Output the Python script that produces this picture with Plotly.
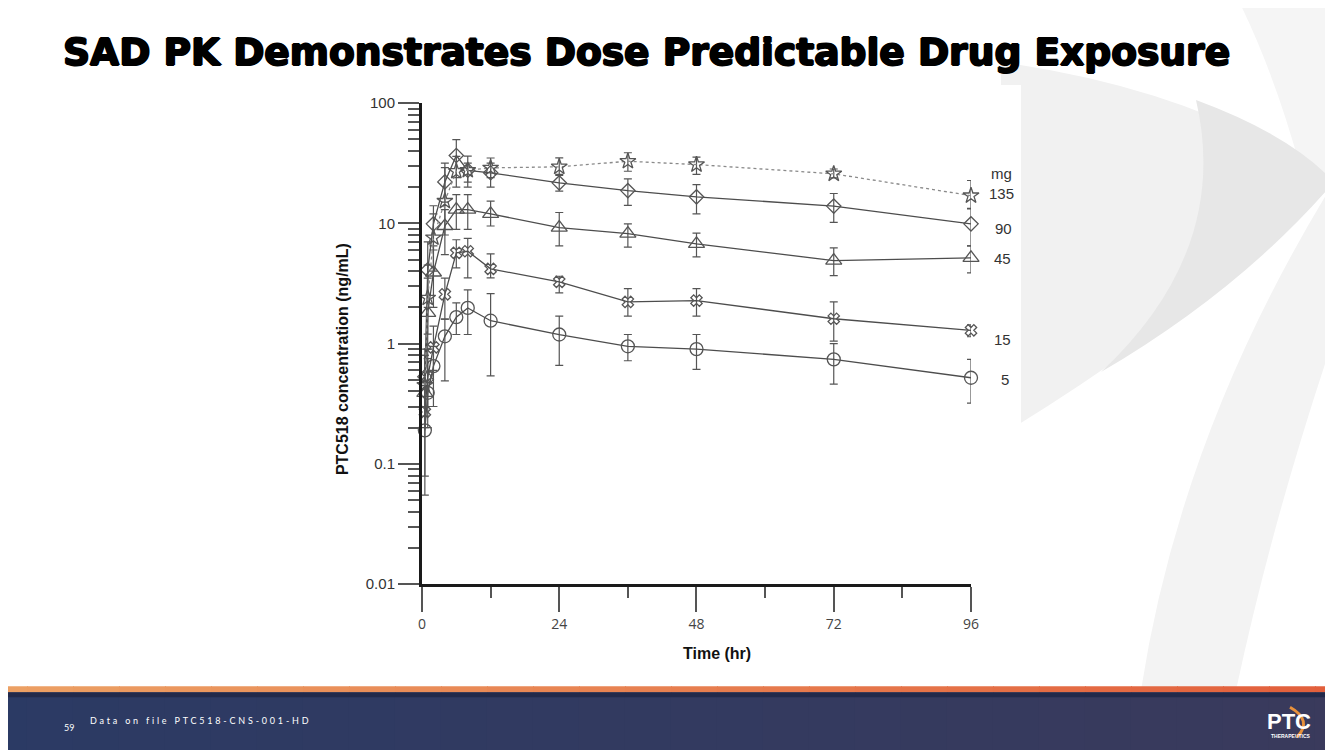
import plotly.graph_objects as go

# ---------------- data ----------------
time_hr = [0.5, 1, 2, 4, 6, 8, 12, 24, 36, 48, 72, 96]

dose_labels = ["5", "15", "45", "90", "135"]

mean_5 = [0.19, 0.39, 0.65, 1.15, 1.66, 1.98, 1.55, 1.19, 0.95, 0.90, 0.74, 0.52]
upper_5 = [0.30, 0.75, 0.95, 1.60, 2.18, 2.80, 2.60, 1.69, 1.19, 1.19, 1.00, 0.74]
lower_5 = [0.055, 0.20, 0.30, 0.49, 1.19, 1.19, 0.54, 0.66, 0.72, 0.61, 0.46, 0.32]

mean_15 = [0.27, 0.53, 0.93, 2.57, 5.68, 5.86, 4.18, 3.26, 2.22, 2.28, 1.61, 1.29]
upper_15 = [0.45, 0.90, 1.40, 3.50, 7.30, 7.50, 5.57, 3.63, 2.87, 2.87, 2.22, 1.43]
lower_15 = [0.079, 0.30, 0.60, 1.60, 4.27, 3.52, 3.52, 2.64, 1.69, 1.69, 1.05, 1.14]

mean_45 = [0.39, 1.8, 3.9, 9.5, 13.0, 13.0, 12.0, 9.2, 8.2, 6.75, 4.9, 5.16]
upper_45 = [0.8, 3.5, 6.5, 13.0, 17.3, 17.3, 15.3, 12.3, 9.9, 8.3, 6.25, 6.5]
lower_45 = [0.2, 0.9, 2.0, 5.5, 8.9, 8.9, 9.5, 6.5, 6.35, 5.27, 3.68, 3.87]

mean_90 = [0.53, 4.1, 9.9, 22.1, 36.6, 27.6, 26.3, 21.7, 18.7, 16.6, 13.9, 9.9]
upper_90 = [0.9, 7.0, 14.0, 29.0, 49.6, 36.2, 31.7, 25.5, 23.4, 21.0, 17.7, 13.2]
lower_90 = [0.3, 2.0, 6.0, 15.0, 24.0, 20.0, 20.0, 18.5, 14.1, 12.0, 10.2, 6.5]

mean_135 = [0.45, 2.4, 7.6, 15.3, 27.1, 27.6, 28.9, 29.5, 32.8, 30.8, 25.8, 17.0]
upper_135 = [0.8, 4.5, 12.0, 31.7, 36.0, 31.7, 34.9, 35.0, 38.6, 35.5, 28.3, 22.7]
lower_135 = [0.25, 1.2, 4.0, 8.0, 20.0, 22.0, 24.0, 25.0, 27.1, 25.5, 23.9, 13.3]

x_ticks = [0, 24, 48, 72, 96]

title_text = "SAD PK Demonstrates Dose Predictable Drug Exposure"
y_title = "PTC518 concentration (ng/mL)"
x_title = "Time (hr)"
footer_text = "Data on file PTC518-CNS-001-HD"
page_no = "59"

# ---------------- page geometry ----------------
FW, FH = 1333, 750
# observed placement of the figure in the screenshot (offset and scale)
OX, OY = 11, 17
SX, SY = 0.991, 0.977


def px(x):
    return (x - OX) / SX / FW


def py(y):
    return 1 - (y - OY) / SY / FH


series = [
    ("5", mean_5, upper_5, lower_5, "circle-open", 13, "solid", "#4d4d4d"),
    ("15", mean_15, upper_15, lower_15, "x-open", 10, "solid", "#4d4d4d"),
    ("45", mean_45, upper_45, lower_45, "triangle-up-open", 14, "solid", "#4d4d4d"),
    ("90", mean_90, upper_90, lower_90, "diamond-open", 11, "solid", "#4d4d4d"),
    ("135", mean_135, upper_135, lower_135, "star-open", 12, "dot", "#8a8a8a"),
]

fig = go.Figure()
for name, m, up, lo, sym, size, dash, lcol in series:
    fig.add_trace(go.Scatter(
        x=time_hr, y=m, name=name + " mg", mode="lines+markers",
        line=dict(color=lcol, width=1.3, dash=dash),
        marker=dict(symbol=sym, size=size, color="#555555",
                    line=dict(color="#555555", width=1.3)),
        error_y=dict(type="data", symmetric=False,
                     array=[u - v for u, v in zip(up, m)],
                     arrayminus=[v - l for v, l in zip(m, lo)],
                     color="#555555", thickness=1.2, width=4),
        cliponaxis=False,
        showlegend=False,
    ))

# ---------------- decorative shapes ----------------
shapes = []
# background swoosh on the right (subtle greys)
shapes.append(dict(type="path", xref="paper", yref="paper", layer="below",
                   path=f"M {px(1227)} {py(-20)} L {px(1360)} {py(-20)} L {px(1360)} {py(190)} "
                        f"L {px(1300)} {py(170)} Q {px(1270)} {py(60)} {px(1227)} {py(-20)} Z",
                   fillcolor="#f5f5f5", line=dict(width=0)))
shapes.append(dict(type="path", xref="paper", yref="paper", layer="below",
                   path=f"M {px(1000)} {py(62)} Q {px(1200)} {py(90)} {px(1333)} {py(182)} "
                        f"Q {px(1190)} {py(320)} {px(1000)} {py(435)} Z",
                   fillcolor="#f1f1f1", line=dict(width=0)))
shapes.append(dict(type="path", xref="paper", yref="paper", layer="below",
                   path=f"M {px(1195)} {py(100)} Q {px(1290)} {py(135)} {px(1333)} {py(182)} "
                        f"Q {px(1240)} {py(290)} {px(1100)} {py(372)} Q {px(1230)} {py(250)} {px(1195)} {py(100)} Z",
                   fillcolor="#e7e7e7", line=dict(width=0)))
shapes.append(dict(type="path", xref="paper", yref="paper", layer="below",
                   path=f"M {px(1333)} {py(182)} L {px(1360)} {py(182)} L {px(1360)} {py(260)} "
                        f"Q {px(1280)} {py(480)} {px(1235)} {py(690)} L {px(1140)} {py(690)} "
                        f"Q {px(1180)} {py(430)} {px(1333)} {py(182)} Z",
                   fillcolor="#f3f3f3", line=dict(width=0)))
# white chart panel
shapes.append(dict(type="rect", xref="paper", yref="paper", layer="below",
                   x0=px(320), x1=px(1020), y0=py(640), y1=py(85),
                   fillcolor="white", line=dict(width=0)))
# footer band with gradient
n = 30
c0 = (43, 58, 100)
c1 = (58, 58, 92)
for i in range(n):
    t = i / (n - 1)
    c = tuple(int(round(a + (b - a) * t)) for a, b in zip(c0, c1))
    x0 = -20 + i * 1380 / n
    shapes.append(dict(type="rect", xref="paper", yref="paper", layer="below",
                       x0=px(x0), x1=px(x0 + 1380 / n + 1), y0=py(790), y1=py(692),
                       fillcolor=f"rgb{c}", line=dict(width=0)))
# orange line
for i in range(n):
    t = i / (n - 1)
    c = tuple(int(round(a + (b - a) * t)) for a, b in zip((236, 160, 100), (226, 95, 60)))
    x0 = -20 + i * 1380 / n
    shapes.append(dict(type="rect", xref="paper", yref="paper", layer="below",
                       x0=px(x0), x1=px(x0 + 1380 / n + 1), y0=py(692), y1=py(686),
                       fillcolor=f"rgb{c}", line=dict(width=0)))
shapes.append(dict(type="rect", xref="paper", yref="paper", layer="below",
                   x0=px(-20), x1=px(1360), y0=py(697), y1=py(692),
                   fillcolor="#22294a", line=dict(width=0)))
# logo arc
shapes.append(dict(type="path", xref="paper", yref="paper",
                   path=f"M {px(1289)} {py(707)} Q {px(1312)} {py(720)} {px(1296)} {py(737)}",
                   line=dict(color="#e8913c", width=3)))

# ---------------- annotations ----------------
ann = []
ann.append(dict(text=f"<b>{title_text}</b>", x=px(60), y=py(52), xref="paper", yref="paper",
                xanchor="left", yanchor="middle", showarrow=False,
                font=dict(family="DejaVu Sans", size=37.6, color="#000000",
                          shadow="1px 0 0 #000, -1px 0 0 #000, 0 1px 0 #000, 0 -1px 0 #000")))
ann.append(dict(text=f"<b>{y_title}</b>", x=px(341), y=py(359), xref="paper", yref="paper",
                textangle=-90, showarrow=False, xanchor="center", yanchor="middle",
                font=dict(family="Liberation Sans", size=16, color="#111111")))
ann.append(dict(text=f"<b>{x_title}</b>", x=px(716), y=py(653), xref="paper", yref="paper",
                showarrow=False, xanchor="center", yanchor="middle",
                font=dict(family="Liberation Sans", size=16, color="#111111")))
dose_label_pos = {"mg": (1001, 173), "135": (1001, 193), "90": (1003, 228),
                  "45": (1002, 258), "15": (1002, 339), "5": (1004, 379)}
for lab in ["mg"] + dose_labels[::-1]:
    xx, yy = dose_label_pos[lab]
    ann.append(dict(text=lab, x=px(xx), y=py(yy), xref="paper", yref="paper",
                    showarrow=False, xanchor="center", yanchor="middle",
                    font=dict(family="Liberation Sans", size=15, color="#333333")))
ann.append(dict(text=page_no, x=px(61), y=py(727), xref="paper", yref="paper",
                showarrow=False, xanchor="left", yanchor="middle",
                font=dict(family="Lato", size=9, color="#ffffff")))
ann.append(dict(text=f'<span style="letter-spacing:2.8px">{footer_text}</span>',
                x=px(87), y=py(720), xref="paper", yref="paper",
                showarrow=False, xanchor="left", yanchor="middle",
                font=dict(family="Lato", size=9, color="#ffffff")))
ann.append(dict(text="<b>PTC</b>", x=px(1264), y=py(721), xref="paper", yref="paper",
                showarrow=False, xanchor="left", yanchor="middle",
                font=dict(family="Liberation Sans", size=22, color="#ffffff")))
ann.append(dict(text="<b>THERAPEUTICS</b>", x=px(1268), y=py(736), xref="paper", yref="paper",
                showarrow=False, xanchor="left", yanchor="middle",
                font=dict(family="Liberation Sans", size=5, color="#ffffff")))

fig.update_layout(
    width=FW, height=FH,
    margin=dict(l=0, r=0, t=0, b=0),
    paper_bgcolor="white", plot_bgcolor="rgba(0,0,0,0)",
    shapes=shapes, annotations=ann, showlegend=False,
    xaxis=dict(domain=[px(421), px(970)], range=[0, 96], tickvals=x_ticks,
               ticks="outside", ticklen=25, tickwidth=1.5, tickcolor="#555555",
               showline=True, linewidth=3, linecolor="#1a1a1a",
               showgrid=False, zeroline=False,
               tickfont=dict(family="Open Sans", size=14, color="#444444"),
               minor=dict(ticks="outside", dtick=12, ticklen=11, tickwidth=1.5,
                          tickcolor="#555555", showgrid=False)),
    yaxis=dict(domain=[py(584), py(103)], type="log", range=[-2, 2],
               tick0=0, dtick=1,
               ticks="outside", ticklen=21, tickwidth=1.5, tickcolor="#555555",
               showline=True, linewidth=3, linecolor="#1a1a1a",
               showgrid=False, zeroline=False,
               tickfont=dict(family="Liberation Sans", size=15, color="#333333"),
               minor=dict(ticks="outside", dtick="D1", ticklen=11, tickwidth=1.5,
                          tickcolor="#555555", showgrid=False)),
)

fig.write_html("out.html")
